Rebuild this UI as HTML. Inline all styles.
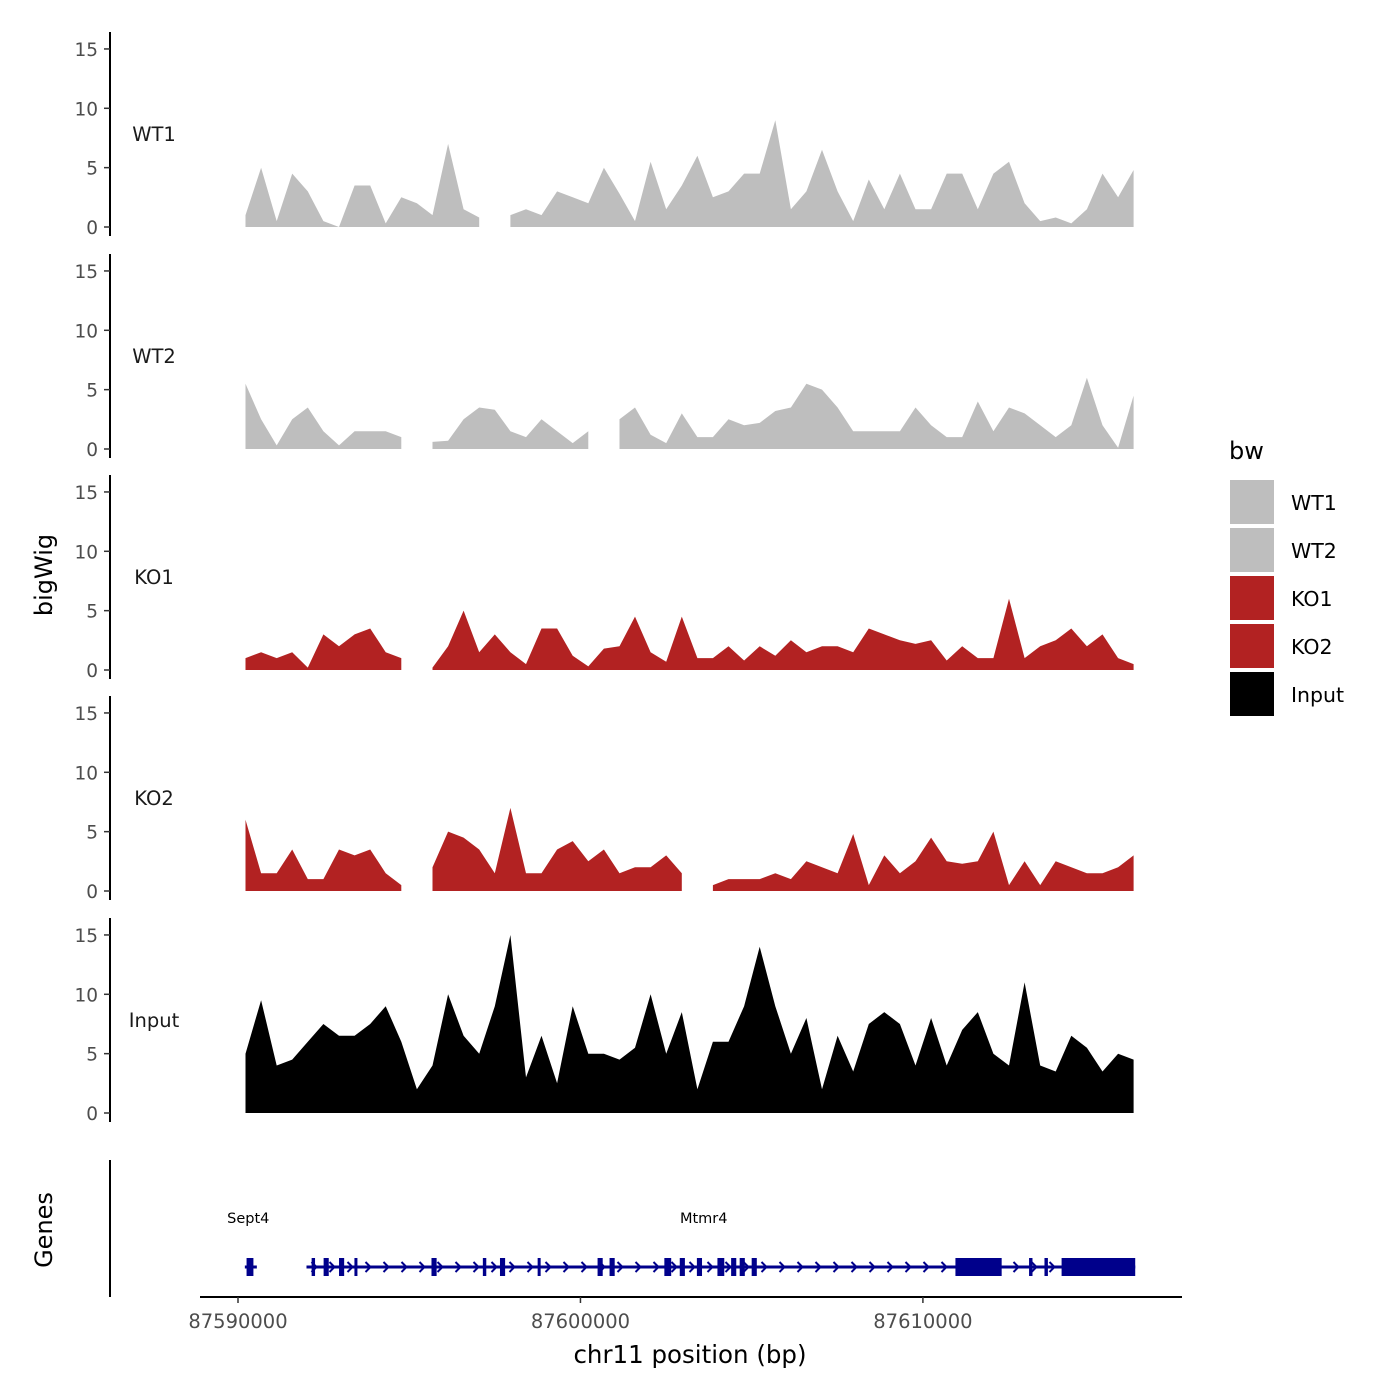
<!DOCTYPE html>
<html><head><meta charset="utf-8"><style>
html,body{margin:0;padding:0;background:#fff;}
svg{display:block;font-family:"DejaVu Sans","Liberation Sans",sans-serif;}
</style></head><body>
<svg id="chart" width="1400" height="1400" viewBox="0 0 1400 1400"></svg>
<script>
const trackNames = ["WT1","WT2","KO1","KO2","Input"];
const trackColors = ["#bebebe","#bebebe","#b22222","#b22222","#000000"];
const yTicks = [0,5,10,15];
const xTicks = [87590000,87600000,87610000];
const xTickLabels = ["87590000","87600000","87610000"];
const binStart = 87590219;
const binSize = 455;
const wt1 = [1,5,0.5,4.5,3,0.5,0,3.5,3.5,0.3,2.5,2,1,7,1.5,0.8,null,1,1.5,1,3,2.5,2,5,2.8,0.5,5.5,1.5,3.5,6,2.5,3,4.5,4.5,9,1.5,3,6.5,3,0.5,4,1.5,4.5,1.5,1.5,4.5,4.5,1.5,4.5,5.5,2,0.5,0.8,0.3,1.5,4.5,2.5,4.8];
const wt2 = [5.5,2.5,0.3,2.5,3.5,1.5,0.3,1.5,1.5,1.5,1,null,0.6,0.7,2.5,3.5,3.3,1.5,1,2.5,1.5,0.5,1.5,null,2.5,3.5,1.2,0.5,3,1,1,2.5,2,2.2,3.2,3.5,5.5,5,3.5,1.5,1.5,1.5,1.5,3.5,2,1,1,4,1.5,3.5,3,2,1,2,6,2,0.1,4.5];
const ko1 = [1,1.5,1,1.5,0.2,3,2,3,3.5,1.5,1,null,0.2,2,5,1.5,3,1.5,0.5,3.5,3.5,1.2,0.3,1.8,2,4.5,1.5,0.7,4.5,1,1,2,0.8,2,1.2,2.5,1.5,2,2,1.5,3.5,3,2.5,2.2,2.5,0.8,2,1,1,6,1,2,2.5,3.5,2,3,1,0.5];
const ko2 = [6,1.5,1.5,3.5,1,1,3.5,3,3.5,1.5,0.5,null,2,5,4.5,3.5,1.5,7,1.5,1.5,3.5,4.2,2.5,3.5,1.5,2,2,3,1.5,null,0.5,1,1,1,1.5,1,2.5,2,1.5,4.8,0.5,3,1.5,2.5,4.5,2.5,2.3,2.5,5,0.5,2.5,0.5,2.5,2,1.5,1.5,2,3];
const input = [5,9.5,4,4.5,6,7.5,6.5,6.5,7.5,9,6,2,4,10,6.5,5,9,15,3,6.5,2.5,9,5,5,4.5,5.5,10,5,8.5,2,6,6,9,14,9,5,8,2,6.5,3.5,7.5,8.5,7.5,4,8,4,7,8.5,5,4,11,4,3.5,6.5,5.5,3.5,5,4.5];
const series = [wt1,wt2,ko1,ko2,input];
const geneNames = ["Sept4","Mtmr4"];
const geneStarts = [87590200,87592000];
const geneEnds = [87590550,87616200];
const geneLabelPos = [87590300,87603600];
const exonStarts = [87590250,87592150,87592500,87592950,87593400,87595650,87597150,87597650,87598750,87600500,87600850,87602450,87602900,87603400,87604000,87604400,87604650,87605000,87610950,87613100,87613550,87614050];
const exonEnds = [87590450,87592250,87592650,87593100,87593450,87595800,87597250,87597800,87598820,87600650,87601000,87602650,87603050,87603550,87604200,87604550,87604800,87605150,87612300,87613200,87613650,87616200];

const NS="http://www.w3.org/2000/svg";
const svg=document.getElementById('chart');
function mk(tag,attrs,parent){const e=document.createElementNS(NS,tag);for(const k in attrs)e.setAttribute(k,attrs[k]);(parent||svg).appendChild(e);return e;}
function xs(bp){return 238+(bp-87590000)*0.034245;}
const panelBase=[227,449,670,891,1113];
const pxPerUnit=11.87;
function ys(i,v){return panelBase[i]-v*pxPerUnit;}

for(let i=0;i<5;i++){
  const g=mk('g',{});
  
  
  const ax=mk('line',{x1:110,x2:110,y1:panelBase[i]-195,y2:panelBase[i]+9,stroke:'#000','stroke-width':2},g);
  
  
  yTicks.forEach(t=>{
    mk('line',{x1:104,x2:110,y1:ys(i,t),y2:ys(i,t),stroke:'#333','stroke-width':1.5},g);
    const tx=mk('text',{x:98,y:ys(i,t)+7,'text-anchor':'end','font-size':18.5,fill:'#4d4d4d'},g);
    tx.textContent=t;
    
    
  });
  const lab=mk('text',{x:154,y:panelBase[i]-86,'text-anchor':'middle','font-size':19.5,fill:'#1a1a1a'},g);
  lab.textContent=trackNames[i];
  
  
  const vals=series[i];
  let seg=[];
  const flush=()=>{
    if(seg.length){
      let d='M'+seg[0][0]+','+panelBase[i];
      seg.forEach(p=>{d+=' L'+p[0]+','+p[1];});
      d+=' L'+seg[seg.length-1][0]+','+panelBase[i]+' Z';
      const p=mk('path',{d:d,fill:trackColors[i]},g);
      
      
    }
    seg=[];
  };
  vals.forEach((v,j)=>{
    if(v===null){flush();return;}
    seg.push([xs(binStart+j*binSize).toFixed(1),ys(i,v).toFixed(1)]);
  });
  flush();
}

const bt=mk('text',{x:0,y:0,transform:'translate(52,575) rotate(-90)','text-anchor':'middle','font-size':24,fill:'#000'});
bt.textContent='bigWig';


const gt=mk('text',{x:0,y:0,transform:'translate(52,1230) rotate(-90)','text-anchor':'middle','font-size':24,fill:'#000'});
gt.textContent='Genes';



const gAx=mk('line',{x1:110,x2:110,y1:1160,y2:1297,stroke:'#000','stroke-width':2});


const gy=1267;
const gg=mk('g',{});


geneNames.forEach((n,k)=>{
  const l=mk('line',{x1:xs(geneStarts[k]),x2:xs(geneEnds[k]),y1:gy,y2:gy,stroke:'#00008b','stroke-width':3},gg);
  
  
  const t=mk('text',{x:xs(geneLabelPos[k]),y:1223,'text-anchor':'middle','font-size':14.5,fill:'#000'},gg);
  t.textContent=n;
  
  
  if(k===1){
    for(let x=xs(geneStarts[k])+8;x<xs(geneEnds[k]);x+=18){
      mk('path',{d:`M${x-3},${gy-5} L${x+2},${gy} L${x-3},${gy+5}`,stroke:'#00008b','stroke-width':2,fill:'none'},gg);
    }
  }
});
exonStarts.forEach((s,k)=>{
  const r=mk('rect',{x:xs(s),y:gy-9,width:Math.max(3,xs(exonEnds[k])-xs(s)),height:18,fill:'#00008b'},gg);
  
  
});

const xa=mk('line',{x1:200,x2:1182,y1:1297,y2:1297,stroke:'#000','stroke-width':2});


xTicks.forEach((t,k)=>{
  mk('line',{x1:xs(t),x2:xs(t),y1:1297,y2:1303,stroke:'#333','stroke-width':1.5});
  const tx=mk('text',{x:xs(t),y:1328,'text-anchor':'middle','font-size':19.5,fill:'#4d4d4d'});
  tx.textContent=xTickLabels[k];
  
  
});
const xt=mk('text',{x:690,y:1363,'text-anchor':'middle','font-size':24.5,fill:'#000'});
xt.textContent='chr11 position (bp)';



const lg=mk('g',{});


const lt=mk('text',{x:1229,y:459,'font-size':24,fill:'#000'},lg);
lt.textContent='bw';


trackNames.forEach((n,k)=>{
  const y=480+k*48;
  const r=mk('rect',{x:1230,y:y,width:44,height:44,fill:trackColors[k]},lg);
  
  
  const t=mk('text',{x:1291,y:y+30,'font-size':20.5,fill:'#000'},lg);
  t.textContent=n;
  
  
});
</script>
</body></html>
